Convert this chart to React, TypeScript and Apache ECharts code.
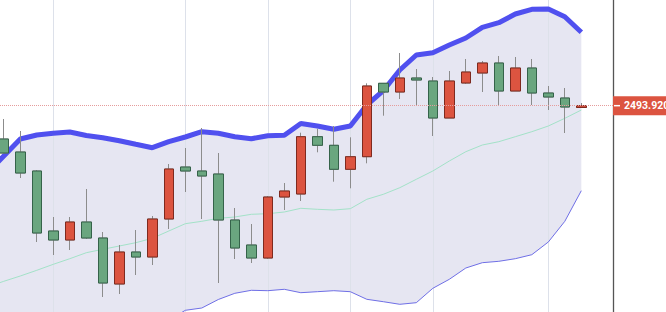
import React, { useEffect, useRef } from "react";
import * as echarts from "echarts";

// ---- data (prices) ----
const lastPrice = 2493.92;
const lastPriceLabel = "2493.920";

const opens = [2460.6, 2447.6, 2428.6, 2368.6, 2359.6, 2377.6, 2361.6, 2315.6, 2347.6, 2342.6, 2380.6, 2432.6, 2428.6, 2425.6, 2379.6, 2354.6, 2341.6, 2402.6, 2405.6, 2462.9, 2454.3, 2430.3, 2442.9, 2516.3, 2507.6, 2521.6, 2518.6, 2481.6, 2516.6, 2526.6, 2536.6, 2508.6, 2531.6, 2506.6, 2501.6, 2492.1];
const closes = [2446.6, 2426.6, 2366.6, 2359.6, 2377.6, 2361.6, 2316.6, 2347.6, 2342.6, 2380.6, 2430.6, 2428.6, 2423.6, 2379.6, 2351.6, 2341.6, 2402.6, 2408.6, 2462.9, 2454.3, 2430.3, 2442.9, 2513.6, 2507.6, 2521.6, 2519.6, 2481.6, 2518.6, 2527.6, 2536.6, 2508.6, 2531.6, 2506.6, 2502.6, 2492.6, 2493.92];
const lows = [2445.6, 2421.6, 2357.6, 2344.6, 2349.6, 2360.6, 2302.6, 2305.6, 2324.6, 2334.6, 2370.6, 2407.6, 2380.6, 2316.6, 2340.6, 2336.6, 2340.6, 2389.6, 2398.6, 2447.3, 2417.9, 2411.3, 2436.3, 2483.9, 2500.6, 2494.6, 2463.6, 2481.6, 2515.6, 2507.6, 2494.6, 2508.6, 2494.6, 2489.6, 2466.6, 2491.6];
const highs = [2480.6, 2468.6, 2429.6, 2382.6, 2382.6, 2410.6, 2367.6, 2354.6, 2369.6, 2383.6, 2435.6, 2451.6, 2471.6, 2446.6, 2391.6, 2375.6, 2403.6, 2416.6, 2466.9, 2470.9, 2473.6, 2462.3, 2516.3, 2516.6, 2546.6, 2530.6, 2522.6, 2528.6, 2540.6, 2538.6, 2543.6, 2542.6, 2540.6, 2513.6, 2511.6, 2496.6];

// Bollinger bands start one bar before the first visible candle
const bandStart = -1;
const upperBand = [2426.6, 2443.6, 2460.6, 2464.6, 2466.3, 2467.6, 2464.1, 2461.9, 2458.9, 2455.3, 2451.9, 2457.9, 2462.6, 2467.9, 2466.3, 2462.9, 2460.9, 2463.9, 2464.3, 2476.1, 2473.6, 2470.3, 2473.6, 2494.6, 2508.9, 2529.6, 2544.6, 2546.9, 2554.6, 2561.6, 2572.3, 2576.9, 2585.6, 2590.3, 2590.6, 2582.9, 2567.3];
const middleBand = [2312.6, 2318.3, 2323.6, 2329.3, 2335.3, 2340.9, 2346.9, 2350.3, 2353.6, 2356.9, 2361.3, 2368.6, 2375.9, 2378.3, 2381.3, 2382.6, 2385.3, 2385.9, 2387.6, 2391.3, 2390.3, 2389.6, 2390.9, 2400.3, 2405.3, 2411.9, 2420.3, 2428.6, 2438.6, 2447.9, 2454.6, 2457.9, 2462.9, 2467.9, 2473.6, 2481.3, 2489.6];
const lowerBand = [2198.6, 2193.0, 2186.6, 2194.0, 2204.3, 2214.2, 2229.7, 2238.7, 2248.3, 2258.5, 2270.7, 2279.3, 2289.3, 2291.6, 2300.1, 2306.3, 2309.3, 2308.9, 2310.3, 2306.9, 2307.9, 2308.9, 2307.9, 2300.3, 2297.9, 2295.3, 2296.9, 2311.3, 2320.3, 2331.6, 2336.9, 2338.3, 2340.9, 2344.9, 2357.6, 2378.3, 2408.9];

// bar indices where vertical grid lines sit
const gridTicks = [3, 11, 16, 21, 26, 33];

// visible window
const xMin = -0.23;
const xMax = 36.92;
const yMin = 2287.6;
const yMax = 2599.6;

export default function App() {
  const ref = useRef<HTMLDivElement>(null);

  useEffect(() => {
    document.body.style.margin = "0";
    const chart = echarts.init(ref.current!, null, { renderer: "svg" });

    const full = opens.map((o, i) => [i, o, closes[i], lows[i], highs[i]]);
    const bodies = opens.map((o, i) => [
      i,
      o,
      closes[i],
      Math.min(o, closes[i]),
      Math.max(o, closes[i]),
    ]);
    const bandPts = (arr: number[]) => arr.map((v, k) => [bandStart + k, v]);

    chart.setOption({
      animation: false,
      backgroundColor: "#ffffff",
      grid: { left: 0, right: 53, top: 0, bottom: 0, containLabel: false },
      xAxis: {
        type: "value",
        min: xMin,
        max: xMax,
        show: false,
      },
      yAxis: {
        type: "value",
        position: "right",
        min: yMin,
        max: yMax,
        axisLine: {
          show: true,
          onZero: false,
          lineStyle: { color: "#555555", width: 1.3 },
        },
        axisTick: { show: false },
        axisLabel: { show: false },
        splitLine: { show: false },
      },
      series: [
        {
          type: "custom",
          coordinateSystem: "cartesian2d",
          silent: true,
          z: 1,
          data: [[0, middleBand[0]]],
          encode: { x: 0, y: 1 },
          renderItem: (params: any, api: any) => {
            const top = upperBand.map((v, k) => api.coord([bandStart + k, v]));
            const bot = lowerBand
              .map((v, k) => api.coord([bandStart + k, v]))
              .reverse();
            const children: any[] = [
              {
                type: "polygon",
                shape: { points: top.concat(bot) },
                style: { fill: "#e6e6f2" },
              },
            ];
            gridTicks.forEach((t) => {
              const p1 = api.coord([t, yMax]);
              const p2 = api.coord([t, yMin]);
              const x = Math.round(p1[0]) + 0.5;
              children.push({
                type: "line",
                shape: { x1: x, y1: p1[1], x2: x, y2: p2[1] },
                style: { stroke: "#dde1ea", lineWidth: 1 },
              });
            });
            return { type: "group", children };
          },
        },
        {
          type: "line",
          data: bandPts(lowerBand),
          symbol: "none",
          silent: true,
          z: 2,
          lineStyle: { color: "#6f6fe6", width: 1 },
        },
        {
          type: "line",
          data: bandPts(middleBand),
          symbol: "none",
          silent: true,
          z: 2,
          lineStyle: { color: "#a3e2c8", width: 1 },
        },
        {
          type: "line",
          data: bandPts(upperBand),
          symbol: "none",
          silent: true,
          z: 2,
          lineStyle: { color: "#5050ef", width: 5 },
        },
        {
          type: "candlestick",
          data: full,
          encode: { x: 0, y: [1, 2, 3, 4] },
          barWidth: 10,
          silent: true,
          z: 3,
          itemStyle: {
            color: "#8c8c8c",
            color0: "#8c8c8c",
            borderColor: "#8c8c8c",
            borderColor0: "#8c8c8c",
            borderWidth: 1,
          },
        },
        {
          type: "candlestick",
          data: bodies,
          encode: { x: 0, y: [1, 2, 3, 4] },
          barWidth: 10,
          silent: true,
          z: 4,
          itemStyle: {
            color: "#dc5440",
            color0: "#6aa67f",
            borderColor: "#7f2a1f",
            borderColor0: "#35634a",
            borderWidth: 1,
          },
          markLine: {
            symbol: "none",
            silent: true,
            z: 5,
            data: [{ yAxis: lastPrice }],
            lineStyle: { color: "#e59c9c", type: "dotted", width: 1 },
            label: {
              show: true,
              position: "end",
              distance: 0,
              formatter: "{d|}{v|" + lastPriceLabel + "}",
              backgroundColor: "#dc5440",
              padding: [4, 6, 4, 1],
              rich: {
                d: { width: 6, height: 1.5, backgroundColor: "#ffffff" },
                v: {
                  color: "#ffffff",
                  fontFamily: "Roboto, sans-serif",
                  fontWeight: "bold",
                  fontSize: 10.5,
                  lineHeight: 11,
                  padding: [0, 0, 0, 4],
                },
              },
            },
          },
        },
      ],
    });

    return () => chart.dispose();
  }, []);

  return (
    <div
      ref={ref}
      style={{ position: "absolute", left: 0, top: 0, width: 666, height: 312 }}
    />
  );
}
